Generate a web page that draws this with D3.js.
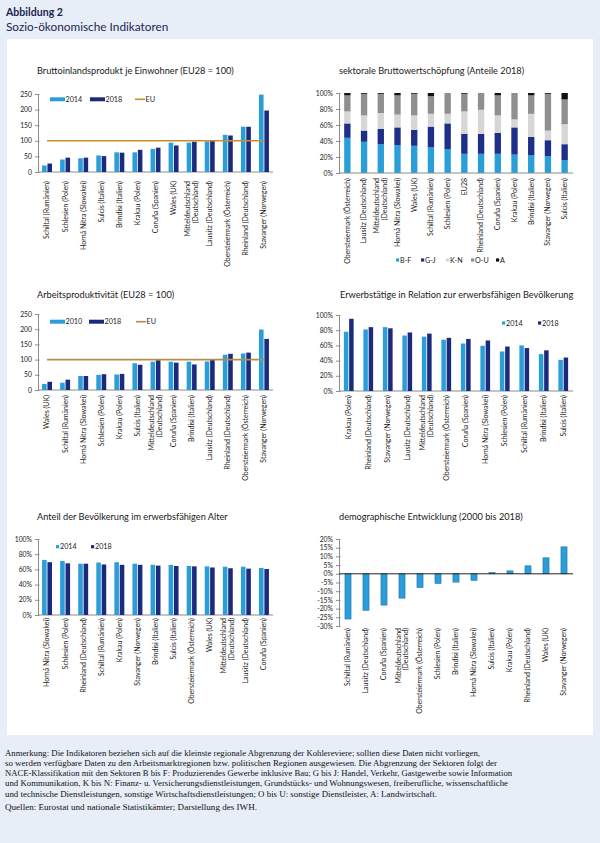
<!DOCTYPE html>
<html>
<head>
<meta charset="utf-8">
<script src="https://cdn.jsdelivr.net/npm/d3@7"></script>
<style>
  html, body { margin: 0; padding: 0; background: #e8eef8; }
  svg { display: block; }
</style>
</head>
<body>
<svg id="fig" width="600" height="843"></svg>
<script>
// ---- data ----
const bipCats = ["Schiltal (Rumänien)", "Schlesien (Polen)", "Horná Nitra (Slowakei)", "Sulcis (Italien)",
  "Brindisi (Italien)", "Krakau (Polen)", "Coruña (Spanien)", "Wales (UK)", "Mitteldeutschland\n(Deutschland)",
  "Lausitz (Deutschland)", "Obersteiermark (Österreich)", "Rheinland (Deutschland)", "Stavanger (Norwegen)"];
const bip2014 = [21, 40, 44, 53, 63, 63, 74, 94, 94, 98, 119, 145, 248];
const bip2018 = [27, 46, 46, 51, 62, 71, 78, 85, 97, 101, 117, 145, 197];

const bwsCats = ["Obersteiermark (Österreich)", "Lausitz (Deutschland)", "Mitteldeutschland\n(Deutschland)",
  "Horná Nitra (Slowakei)", "Wales (UK)", "Schiltal (Rumänien)", "Schlesien (Polen)", "EU28",
  "Rheinland (Deutschland)", "Coruña (Spanien)", "Krakau (Polen)", "Brindisi (Italien)",
  "Stavanger (Norwegen)", "Sulcis (Italien)"];
const bwsBF = [44, 39, 36, 35, 34, 32, 30, 24, 24, 24, 23, 22, 21, 16];
const bwsGJ = [18, 14, 19, 22, 20, 26, 32, 25, 25, 26, 34, 23, 20, 20];
const bwsKN = [15, 19, 20, 16, 18, 16, 12, 28, 30, 22, 10, 29, 12, 25];
const bwsOU = [20, 27, 24, 24, 27, 22, 26, 22, 21, 25, 33, 23, 46, 31];
const bwsA  = [3, 1, 1, 3, 1, 4, 0, 1, 0, 3, 0, 3, 1, 8];
const bwsKeys = ["B-F", "G-J", "K-N", "O-U", "A"];

const apCats = ["Wales (UK)", "Schiltal (Rumänien)", "Horná Nitra (Slowakei)", "Schlesien (Polen)",
  "Krakau (Polen)", "Sulcis (Italien)", "Mitteldeutschland\n(Deutschland)", "Coruña (Spanien)",
  "Brindisi (Italien)", "Lausitz (Deutschland)", "Rheinland (Deutschland)", "Obersteiermark (Österreich)",
  "Stavanger (Norwegen)"];
const ap2010 = [20, 24, 46, 50, 51, 88, 93, 93, 93, 94, 116, 120, 199];
const ap2018 = [27, 34, 46, 52, 53, 83, 98, 90, 84, 99, 119, 123, 168];

const ewtCats = ["Krakau (Polen)", "Rheinland (Deutschland)", "Stavanger (Norwegen)", "Lausitz (Deutschland)",
  "Mitteldeutschland\n(Deutschland)", "Obersteiermark (Österreich)", "Coruña (Spanien)",
  "Horná Nitra (Slowakei)", "Schlesien (Polen)", "Schiltal (Rumänien)", "Brindisi (Italien)", "Sulcis (Italien)"];
const ewt2014 = [78, 81, 84, 73, 71.5, 67.5, 62.5, 59.5, 52, 60, 48.5, 41];
const ewt2018 = [95, 84, 82.5, 77, 75.5, 70, 68.5, 66.5, 58.5, 56.5, 53.5, 44];

const bevCats = ["Horná Nitra (Slowakei)", "Schlesien (Polen)", "Rheinland (Deutschland)", "Schiltal (Rumänien)",
  "Krakau (Polen)", "Stavanger (Norwegen)", "Brindisi (Italien)", "Sulcis (Italien)",
  "Obersteiermark (Österreich)", "Wales (UK)", "Mitteldeutschland\n(Deutschland)", "Lausitz (Deutschland)",
  "Coruña (Spanien)"];
const bev2014 = [72.5, 71, 67.5, 69, 69.5, 67.5, 66, 66, 64.5, 64, 63.5, 63.5, 62];
const bev2018 = [69.5, 68, 67.5, 66.5, 66, 66, 65, 64.5, 64, 62.5, 61.5, 61, 60.5];

const demoCats = ["Schiltal (Rumänien)", "Lausitz (Deutschland)", "Coruña (Spanien)",
  "Mitteldeutschland\n(Deutschland)", "Obersteiermark (Österreich)", "Schlesien (Polen)", "Brindisi (Italien)",
  "Horná Nitra (Slowakei)", "Sulcis (Italien)", "Krakau (Polen)", "Rheinland (Deutschland)", "Wales (UK)",
  "Stavanger (Norwegen)"];
const demoVals = [-26, -21, -18, -14, -8, -5.6, -4.8, -3.8, 0.8, 1.7, 4.6, 9.2, 15.5];

const indexTicks = [0, 50, 100, 150, 200, 250];
const pctTicks = [0, 20, 40, 60, 80, 100];
const demoTicks = [-30, -25, -20, -15, -10, -5, 0, 5, 10, 15, 20];

const noteLines = [
  "Anmerkung: Die Indikatoren beziehen sich auf die kleinste regionale Abgrenzung der Kohlereviere; sollten diese Daten nicht vorliegen,",
  "so werden verfügbare Daten zu den Arbeitsmarktregionen bzw. politischen Regionen ausgewiesen. Die Abgrenzung der Sektoren folgt der",
  "NACE-Klassifikation mit den Sektoren B bis F: Produzierendes Gewerbe inklusive Bau; G bis J: Handel, Verkehr, Gastgewerbe sowie Information",
  "und Kommunikation, K bis N: Finanz- u. Versicherungsdienstleistungen, Grundstücks- und Wohnungswesen, freiberufliche, wissenschaftliche",
  "und technische Dienstleistungen, sonstige Wirtschaftsdienstleistungen; O bis U: sonstige Dienstleister, A: Landwirtschaft."
];
const noteWidths = [475, 492, 507, 503, 432];
const sourceLine = "Quellen: Eurostat und nationale Statistikämter; Darstellung des IWH.";

// ---- styles ----
const light = "#2a9ed8", dark = "#1b2a7c";
const stackColors = ["#2a9ed8", "#1e2f88", "#d6d6d6", "#8f8f8f", "#111111"];
const font = "Lato, 'Open Sans', sans-serif";
const axisColor = "#8c8c8c";

const svg = d3.select("#fig");
svg.append("rect").attr("width", 600).attr("height", 843).attr("fill", "#e8eef8");
svg.append("rect").attr("x", 7).attr("y", 39).attr("width", 586).attr("height", 696).attr("fill", "#ffffff");

svg.append("text").attr("x", 6).attr("y", 15.5).text("Abbildung 2")
  .attr("font-family", font).attr("font-weight", "bold").attr("font-size", 10.6).attr("fill", "#1b2552");
svg.append("text").attr("x", 6).attr("y", 31).text("Sozio-ökonomische Indikatoren")
  .attr("font-family", font).attr("font-size", 11.8).attr("fill", "#1b2552");

function title(txt, x, y) {
  svg.append("text").attr("x", x).attr("y", y).text(txt)
    .attr("font-family", font).attr("font-size", 9.2).attr("fill", "#1a1a1a");
}

function yAxis(y, x0, ticks, fmt) {
  const g = svg.append("g").attr("transform", `translate(${x0},0)`)
    .call(d3.axisLeft(y).tickValues(ticks).tickFormat(fmt).tickSize(3).tickPadding(3));
  g.select(".domain").attr("stroke", axisColor);
  g.selectAll(".tick line").attr("stroke", axisColor).attr("x1", 1.5);
  g.selectAll(".tick text").attr("font-family", font).attr("font-size", 6.8).attr("fill", "#222");
  return g;
}

function xLabels(x, cats, top) {
  const g = svg.append("g");
  cats.forEach(c => {
    const lines = c.split("\n");
    const cx = x(c) + x.bandwidth() / 2;
    const t = g.append("text")
      .attr("transform", `translate(${cx},${top}) rotate(-90)`)
      .attr("text-anchor", "end")
      .attr("font-family", font).attr("font-size", 7).attr("fill", "#1a1a1a");
    lines.forEach((ln, i) => {
      const off = (i - (lines.length - 1) / 2) * 7.8 + 2.4;
      t.append("tspan").attr("x", 0).attr("y", off).text(ln);
    });
  });
}

function xLine(x0, x1, yv, color) {
  svg.append("line").attr("x1", x0).attr("x2", x1).attr("y1", yv).attr("y2", yv)
    .attr("stroke", color || axisColor).attr("stroke-width", 1);
}

function grouped(cfg) {
  const x = d3.scaleBand().domain(cfg.cats).range([cfg.x0, cfg.x1]);
  const y = d3.scaleLinear().domain(cfg.domain).range([cfg.yb, cfg.yt]);
  const gw = x.bandwidth() * cfg.groupFrac;
  const sub = d3.scaleBand().domain([0, 1]).range([0, gw]).paddingInner(0.15);
  title(cfg.title, cfg.tx, cfg.ty);
  yAxis(y, cfg.x0, cfg.ticks, cfg.fmt);
  xLine(cfg.x0, cfg.x1, y(0));
  cfg.series.forEach((s, si) => {
    svg.append("g").selectAll("rect").data(s.values).join("rect")
      .attr("x", (d, i) => x(cfg.cats[i]) + (x.bandwidth() - gw) / 2 + sub(si))
      .attr("width", sub.bandwidth())
      .attr("y", d => y(d))
      .attr("height", d => y(0) - y(d))
      .attr("fill", s.color);
  });
  if (cfg.eu != null) {
    const first = cfg.cats[0], last = cfg.cats[cfg.cats.length - 1];
    svg.append("line")
      .attr("x1", x(first) + x.bandwidth() / 2).attr("x2", x(last) + x.bandwidth() / 2)
      .attr("y1", y(cfg.eu)).attr("y2", y(cfg.eu))
      .attr("stroke", cfg.euColor).attr("stroke-width", 1.6);
  }
  xLabels(x, cfg.cats, cfg.labelTop);
  return { x, y };
}

function legendText(txt, x, y) {
  svg.append("text").attr("x", x).attr("y", y + 2.5).text(txt)
    .attr("font-family", font).attr("font-size", 7.2).attr("fill", "#1a1a1a");
}
function wideLegend(yc, items) {
  items.forEach(it => {
    if (it.line) {
      svg.append("line").attr("x1", it.x).attr("x2", it.x + 10).attr("y1", yc).attr("y2", yc)
        .attr("stroke", it.color).attr("stroke-width", 1.6);
      legendText(it.label, it.x + 10.5, yc);
    } else {
      svg.append("rect").attr("x", it.x).attr("y", yc - 2).attr("width", 15).attr("height", 4).attr("fill", it.color);
      legendText(it.label, it.x + 15.5, yc);
    }
  });
}
function squareLegend(yc, items) {
  items.forEach(it => {
    svg.append("rect").attr("x", it.x).attr("y", yc - 1.6).attr("width", 3.2).attr("height", 3.2).attr("fill", it.color);
    legendText(it.label, it.x + 4, yc);
  });
}

const idxFmt = d => d;
const pctFmt = d => d + "%";

// Panel 1: BIP je Einwohner
grouped({
  title: "Bruttoinlandsprodukt je Einwohner (EU28 = 100)", tx: 37, ty: 74,
  cats: bipCats, x0: 38, x1: 273, domain: [0, 250], yb: 172, yt: 94,
  ticks: indexTicks, fmt: idxFmt, groupFrac: 0.55, labelTop: 181,
  series: [{ values: bip2014, color: light }, { values: bip2018, color: dark }],
  eu: 100, euColor: "#c98f2b"
});
wideLegend(99.3, [
  { x: 50, label: "2014", color: light },
  { x: 90, label: "2018", color: dark },
  { x: 135, label: "EU", color: "#c98f2b", line: true }
]);

// Panel 2: sektorale Bruttowertschöpfung (stacked)
(function () {
  const rows = bwsCats.map((c, i) => ({ cat: c, "B-F": bwsBF[i], "G-J": bwsGJ[i], "K-N": bwsKN[i], "O-U": bwsOU[i], "A": bwsA[i] }));
  const stack = d3.stack().keys(bwsKeys).offset(d3.stackOffsetExpand)(rows);
  const x = d3.scaleBand().domain(bwsCats).range([339, 573]).paddingInner(0.62).paddingOuter(0.31);
  const y = d3.scaleLinear().domain([0, 1]).range([173, 93]);
  title("sektorale Bruttowertschöpfung (Anteile 2018)", 339, 74);
  yAxis(y, 339, pctTicks.map(d => d / 100), d => Math.round(d * 100) + "%");
  stack.forEach((layer, li) => {
    svg.append("g").selectAll("rect").data(layer).join("rect")
      .attr("x", d => x(d.data.cat))
      .attr("width", x.bandwidth())
      .attr("y", d => y(d[1]))
      .attr("height", d => y(d[0]) - y(d[1]))
      .attr("fill", stackColors[li]);
  });
  xLine(339, 573, y(0));
  xLabels(x, bwsCats, 178);
  squareLegend(260, bwsKeys.map((k, i) => ({ x: 396 + i * 25, label: k, color: stackColors[i] })));
})();

// Panel 3: Arbeitsproduktivität
grouped({
  title: "Arbeitsproduktivität (EU28 = 100)", tx: 37, ty: 297.5,
  cats: apCats, x0: 38, x1: 273, domain: [0, 250], yb: 390, yt: 314,
  ticks: indexTicks, fmt: idxFmt, groupFrac: 0.55, labelTop: 395,
  series: [{ values: ap2010, color: light }, { values: ap2018, color: dark }],
  eu: 100, euColor: "#b58b4c"
});
wideLegend(321.7, [
  { x: 50, label: "2010", color: light },
  { x: 89, label: "2018", color: dark },
  { x: 136, label: "EU", color: "#b58b4c", line: true }
]);

// Panel 4: Erwerbstätige
grouped({
  title: "Erwerbstätige in Relation zur erwerbsfähigen Bevölkerung", tx: 340, ty: 297.5,
  cats: ewtCats, x0: 339, x1: 573, domain: [0, 100], yb: 391, yt: 315,
  ticks: pctTicks, fmt: pctFmt, groupFrac: 0.5, labelTop: 395,
  series: [{ values: ewt2014, color: light }, { values: ewt2018, color: dark }]
});
squareLegend(323, [
  { x: 502, label: "2014", color: light },
  { x: 538, label: "2018", color: dark }
]);

// Panel 5: Bevölkerung im erwerbsfähigen Alter
grouped({
  title: "Anteil der Bevölkerung im erwerbsfähigen Alter", tx: 37, ty: 519.5,
  cats: bevCats, x0: 38, x1: 273, domain: [0, 100], yb: 615, yt: 539,
  ticks: pctTicks, fmt: pctFmt, groupFrac: 0.55, labelTop: 618,
  series: [{ values: bev2014, color: light }, { values: bev2018, color: dark }]
});
squareLegend(546.7, [
  { x: 56, label: "2014", color: light },
  { x: 91, label: "2018", color: dark }
]);

// Panel 6: demographische Entwicklung
(function () {
  const x = d3.scaleBand().domain(demoCats).range([339, 573]).paddingInner(0.66).paddingOuter(0.33);
  const y = d3.scaleLinear().domain([-30, 20]).range([626, 539]);
  title("demographische Entwicklung (2000 bis 2018)", 339, 519.5);
  yAxis(y, 339, demoTicks, pctFmt);
  svg.append("g").selectAll("rect").data(demoVals).join("rect")
    .attr("x", (d, i) => x(demoCats[i]))
    .attr("width", x.bandwidth())
    .attr("y", d => y(Math.max(0, d)))
    .attr("height", d => Math.abs(y(d) - y(0)))
    .attr("fill", light).attr("stroke", "#1f64a6").attr("stroke-width", 0.5);
  xLine(339, 573, y(0), "#222");
  xLabels(x, demoCats, 628);
})();

// Anmerkung / Quellen
noteLines.forEach((ln, i) => {
  svg.append("text").attr("x", 5).attr("y", 755.5 + i * 10.3).text(ln)
    .attr("textLength", noteWidths[i]).attr("lengthAdjust", "spacingAndGlyphs")
    .attr("font-family", "'Liberation Serif', 'DejaVu Serif', serif").attr("font-size", 8.6).attr("fill", "#111");
});
svg.append("text").attr("x", 5).attr("y", 809.5).text(sourceLine)
  .attr("textLength", 252).attr("lengthAdjust", "spacingAndGlyphs")
  .attr("font-family", "'Liberation Serif', 'DejaVu Serif', serif").attr("font-size", 8.6).attr("fill", "#111");
</script>
</body>
</html>
